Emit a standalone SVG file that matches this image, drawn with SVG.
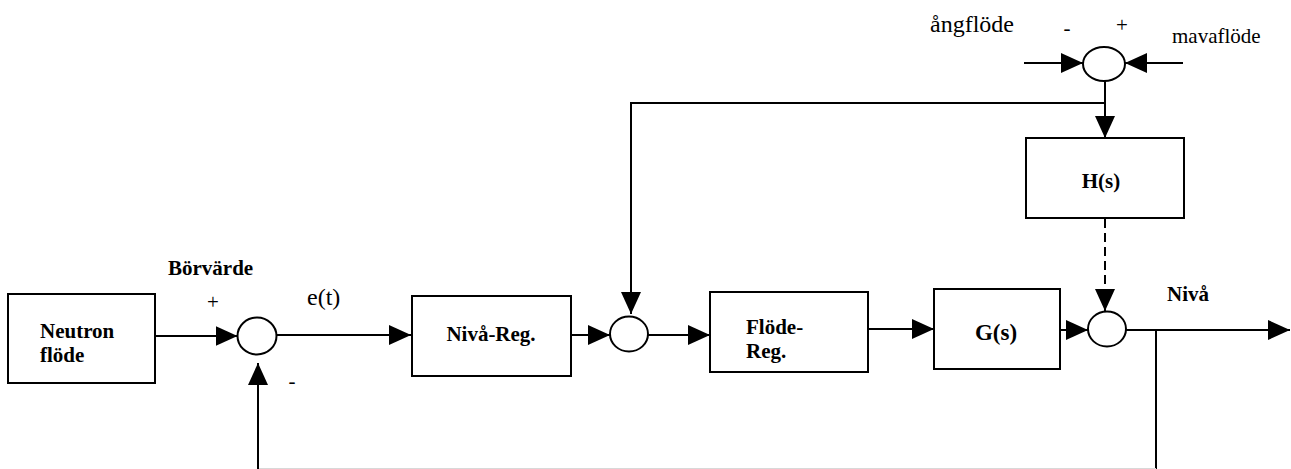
<svg xmlns="http://www.w3.org/2000/svg" width="1291" height="469" viewBox="0 0 1291 469">
  <style>
    .box { fill: #fff; stroke: #000; stroke-width: 2; }
    .sum { fill: #fff; stroke: #000; stroke-width: 2; }
    .wire { fill: none; stroke: #000; stroke-width: 2; }
    .arrow { marker-end: url(#head); }
    .dash { stroke-dasharray: 9 5; }
    .lbl { font-family: "Liberation Serif", "Times New Roman", serif; fill: #000; }
    .b { font-weight: bold; font-size: 21px; }
    .r { font-size: 21px; }
    .big { font-size: 24px; }
    .mid { text-anchor: middle; }
  </style>
  <defs>
    <marker id="head" markerUnits="userSpaceOnUse" markerWidth="22" markerHeight="20" refX="22" refY="10" orient="auto">
      <path d="M0,0 L22,10 L0,20 Z" fill="#000"/>
    </marker>
  </defs>

  <rect width="1291" height="469" fill="#fff"/>

  <!-- signal lines -->
  <g id="connectors">
    <path class="wire arrow" d="M155,336 H237.5"/>
    <path class="wire arrow" d="M276.5,335 H411"/>
    <path class="wire arrow" d="M571,335 H610"/>
    <path class="wire arrow" d="M648,335 H710"/>
    <path class="wire arrow" d="M868,329 H934"/>
    <path class="wire arrow" d="M1060,330 H1088"/>
    <path class="wire arrow" d="M1126,330 H1290"/>
    <!-- level feedback to the first summing point -->
    <path class="wire" d="M1156,330 V469"/>
    <path fill="none" stroke="#d8d8d8" stroke-width="1" d="M258,468.5 H1156"/>
    <path class="wire arrow" d="M258,469 V363"/>
    <!-- disturbance inputs -->
    <path class="wire arrow" d="M1024,63 H1083"/>
    <path class="wire arrow" d="M1183,63 H1125"/>
    <path class="wire arrow" d="M1105,81 V138"/>
    <path class="wire arrow" d="M1105,103 H631 V314"/>
    <path class="wire arrow dash" d="M1105,219 V311"/>
  </g>

  <g id="neutron">
    <rect class="box" x="8" y="294" width="147" height="89"/>
    <text class="lbl b" x="40" y="338">Neutron</text>
    <text class="lbl b" x="40" y="362">flöde</text>
  </g>

  <g id="sum1">
    <ellipse class="sum" cx="257" cy="336" rx="19.5" ry="18.5"/>
  </g>

  <g id="niva-reg">
    <rect class="box" x="412" y="296" width="159" height="80"/>
    <text class="lbl b mid" x="491" y="341">Nivå-Reg.</text>
  </g>

  <g id="sum2">
    <ellipse class="sum" cx="629" cy="334" rx="19" ry="17.5"/>
  </g>

  <g id="flode-reg">
    <rect class="box" x="710" y="292" width="158" height="80"/>
    <text class="lbl b" x="746" y="334">Flöde-</text>
    <text class="lbl b" x="746" y="358">Reg.</text>
  </g>

  <g id="gs">
    <rect class="box" x="934" y="289" width="126" height="80"/>
    <text class="lbl b mid" x="996" y="340" style="font-size:23px">G(s)</text>
  </g>

  <g id="sum3">
    <ellipse class="sum" cx="1107" cy="329" rx="19" ry="17.5"/>
  </g>

  <g id="sum4">
    <ellipse class="sum" cx="1104" cy="64" rx="21" ry="17"/>
  </g>

  <g id="hs">
    <rect class="box" x="1026" y="138" width="158" height="80"/>
    <text class="lbl b mid" x="1101" y="188">H(s)</text>
  </g>

  <!-- labels -->
  <g id="labels">
    <text class="lbl b" x="168" y="275">Börvärde</text>
    <text class="lbl r mid" x="213" y="309">+</text>
    <text class="lbl r mid" x="292" y="388">-</text>
    <text class="lbl big" x="307" y="305">e(t)</text>
    <text class="lbl b" x="1167" y="301">Nivå</text>
    <text class="lbl big" x="930" y="32">ångflöde</text>
    <text class="lbl r mid" x="1067" y="35">-</text>
    <text class="lbl r mid" x="1122" y="32">+</text>
    <text class="lbl r" x="1172" y="43">mavaflöde</text>
  </g>
</svg>
